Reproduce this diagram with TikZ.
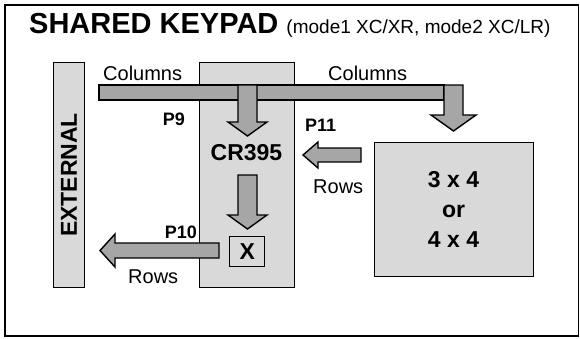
\documentclass[tikz,border=0pt]{standalone}
\usepackage{fontspec}
\setmainfont{Liberation Sans}
\definecolor{boxgray}{HTML}{D9D9D9}
\definecolor{arrgray}{HTML}{A6A6A6}
\begin{document}
\begin{tikzpicture}[x=1pt,y=-1pt,
  box/.style={draw=black,line width=1.4pt,fill=boxgray,inner sep=0pt},
  arr/.style={draw=black,line width=1.4pt,fill=arrgray,line join=miter},
  lbl/.style={inner sep=0pt,font=\fontsize{20}{24}\selectfont},
  plbl/.style={inner sep=0pt,font=\fontsize{18}{22}\selectfont\bfseries},
  big/.style={inner sep=0pt,font=\fontsize{23}{30}\selectfont\bfseries}]
\useasboundingbox (0,0) rectangle (580,338);
\fill[white] (0,0) rectangle (580,338);
\draw[line width=1.2pt] (5,5) rectangle (578.5,336);
% title
\node[anchor=base west,inner sep=0pt] (title) at (29,33)
  {\fontsize{29}{34}\selectfont\bfseries SHARED KEYPAD \fontsize{19}{23}\mdseries(mode1 XC/XR, mode2 XC/LR)};
% boxes
\node[box,minimum width=31pt,minimum height=225pt,anchor=north west] (ext) at (53,62) {};
\node[box,minimum width=95pt,minimum height=225pt,anchor=north west] (cr) at (199,62) {};
\node[box,minimum width=159pt,minimum height=134pt,anchor=north west] (kp) at (374,142) {};
% columns bar
\draw[arr] (99,85) rectangle (444,100);
% right down arrow
\draw[arr] (444,85) -- (463,85) -- (463,115) -- (476,115) -- (453.5,131) -- (431,115) -- (444,115) -- cycle;
% left down arrow (P9)
\draw[arr] (238,85) -- (257,85) -- (257,122) -- (267,122) -- (247.5,136) -- (228,122) -- (238,122) -- cycle;
% second down arrow
\draw[arr] (238,175) -- (257,175) -- (257,215) -- (267,215) -- (247.5,229) -- (228,215) -- (238,215) -- cycle;
% X box
\node[box,minimum width=35pt,minimum height=30pt,anchor=north west] (xb) at (229,236) {};
% P11 arrow
\draw[arr] (361,148) -- (361,162) -- (318,162) -- (318,168) -- (303,155) -- (318,142) -- (318,148) -- cycle;
% P10 arrow
\draw[arr] (219,243) -- (219,258) -- (115,258) -- (115,267) -- (100,250.5) -- (115,234) -- (115,243) -- cycle;
% texts
\node[lbl,anchor=base west] (col1) at (103,80) {Columns};
\node[lbl,anchor=base west] (col2) at (328,80) {Columns};
\node[plbl,anchor=base east] (p9) at (185,125) {P9};
\node[big,anchor=base] (crt) at (246.5,160) {CR395};
\node[big,rotate=90] (extt) at (69,175) {EXTERNAL};
\node[plbl,anchor=base west] (p11) at (305,131) {P11};
\node[lbl,anchor=base west] (rows1) at (313,193) {Rows};
\node[big,anchor=base] (k1) at (453.5,187) {3 x 4};
\node[big,anchor=base] (k2) at (453.5,217) {or};
\node[big,anchor=base] (k3) at (453.5,247) {4 x 4};
\node[big,anchor=center] (xt) at (xb.center) {X};
\node[plbl,anchor=base east] (p10) at (197,238) {P10};
\node[lbl,anchor=base west] (rows2) at (128,283) {Rows};
\end{tikzpicture}
\end{document}
